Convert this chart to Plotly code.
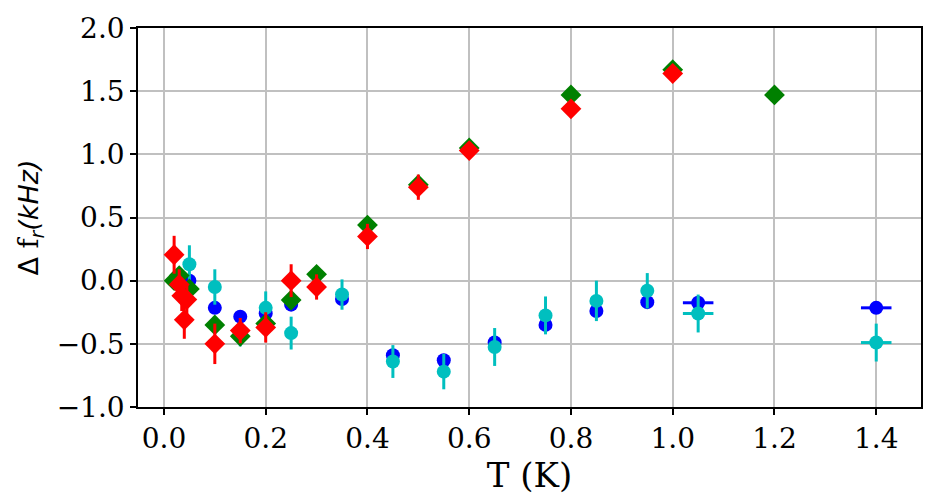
import plotly.graph_objects as go

# Blue circles
T_blue = [0.05, 0.10, 0.15, 0.20, 0.25, 0.35, 0.45, 0.55, 0.65, 0.75, 0.85, 0.95, 1.05, 1.40]
df_blue = [0.0, -0.215, -0.285, -0.26, -0.19, -0.145, -0.59, -0.63, -0.49, -0.35, -0.24, -0.17, -0.175, -0.215]
err_blue = [0.03] * 14
xerr_blue = [0, 0, 0, 0, 0, 0, 0, 0, 0, 0, 0, 0, 0.03, 0.03]

# Cyan circles
T_cyan = [0.05, 0.10, 0.15, 0.20, 0.25, 0.35, 0.45, 0.55, 0.65, 0.75, 0.85, 0.95, 1.05, 1.40]
df_cyan = [0.13, -0.05, -0.42, -0.215, -0.415, -0.11, -0.64, -0.72, -0.525, -0.275, -0.16, -0.08, -0.26, -0.49]
err_cyan = [0.15, 0.14, 0.10, 0.13, 0.13, 0.12, 0.13, 0.14, 0.15, 0.15, 0.16, 0.14, 0.15, 0.15]
xerr_cyan = [0, 0, 0, 0, 0, 0, 0, 0, 0, 0, 0, 0, 0.03, 0.03]

# Green diamonds
T_green = [0.02, 0.03, 0.05, 0.10, 0.15, 0.20, 0.25, 0.30, 0.40, 0.50, 0.60, 0.80, 1.00, 1.20]
df_green = [0.0, 0.04, -0.065, -0.35, -0.44, -0.34, -0.153, 0.05, 0.44, 0.76, 1.05, 1.47, 1.67, 1.47]
err_green = [0.04] * 14

# Red diamonds
T_red = [0.02, 0.03, 0.035, 0.04, 0.045, 0.10, 0.15, 0.20, 0.25, 0.30, 0.40, 0.50, 0.60, 0.80, 1.00]
df_red = [0.205, -0.03, -0.12, -0.31, -0.15, -0.50, -0.395, -0.37, 0.0, -0.05, 0.35, 0.74, 1.03, 1.36, 1.64]
err_red = [0.15, 0.12, 0.12, 0.15, 0.12, 0.16, 0.10, 0.12, 0.13, 0.10, 0.10, 0.10, 0.06, 0.06, 0.05]

fig = go.Figure()

def add(x, y, ey, color, symbol, size, ex=None):
    kw = {}
    if ex is not None:
        kw["error_x"] = dict(type="data", array=ex, visible=True, color=color, thickness=3, width=0)
    fig.add_trace(go.Scatter(
        x=x, y=y, mode="markers",
        marker=dict(color=color, symbol=symbol, size=size, line=dict(width=0)),
        error_y=dict(type="data", array=ey, visible=True, color=color, thickness=3, width=0),
        showlegend=False, **kw))

add(T_blue, df_blue, err_blue, "#0000ff", "circle", 14, xerr_blue)
add(T_cyan, df_cyan, err_cyan, "#00bfbf", "circle", 14, xerr_cyan)
add(T_green, df_green, err_green, "#008000", "diamond", 16)
add(T_red, df_red, err_red, "#ff0000", "diamond", 16)

font = dict(family="DejaVu Serif", size=28, color="black")
ylabel = ('<span style="font-family:DejaVu Sans">Δ</span> f'
          '<sub><span style="font-family:DejaVu Sans"><i>r</i></span></sub>'
          '<span style="font-family:DejaVu Sans"><i>(kHz)</i></span>')
fig.update_layout(
    width=944, height=503,
    margin=dict(l=138, r=23, t=25, b=96),
    plot_bgcolor="white", paper_bgcolor="white",
    font=font,
    xaxis=dict(range=[-0.051, 1.488], dtick=0.2, tick0=0, tickformat=".1f",
               showgrid=True, gridcolor="#c0c0c0", gridwidth=1.5,
               showline=True, mirror=True, linecolor="black", linewidth=1.5,
               ticks="outside", ticklen=6, tickwidth=1.5, tickcolor="black",
               zeroline=False, title=dict(text="T (K)", standoff=4)),
    yaxis=dict(range=[-1.0, 2.0], dtick=0.5, tick0=0, tickformat=".1f",
               showgrid=True, gridcolor="#c0c0c0", gridwidth=1.5,
               showline=True, mirror=True, linecolor="black", linewidth=1.5,
               ticks="outside", ticklen=6, tickwidth=1.5, tickcolor="black",
               zeroline=False,
               title=dict(text=ylabel, standoff=10, font=dict(size=27))),
)

fig.write_html("out.html")
